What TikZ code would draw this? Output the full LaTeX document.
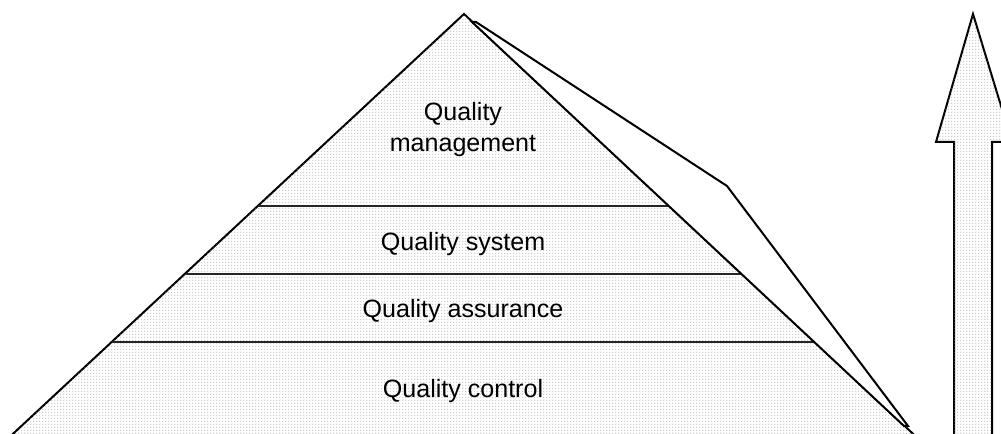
\documentclass[tikz,border=0pt]{standalone}
\usepackage{fontspec}
\usetikzlibrary{patterns.meta}
\setmainfont{Liberation Sans}
% fine stipple used for the shaded surfaces
\tikzdeclarepattern{
  name=stipple,
  type=uncolored,
  bounding box={(0,0) and (2.25pt,2.25pt)},
  tile size={(2.25pt,2.25pt)},
  code={\fill (0.4pt,0.4pt) rectangle (1.15pt,1.15pt);}
}
\begin{document}
\begin{tikzpicture}[x=0.75pt,y=-0.75pt,
  outline/.style={draw=black,line width=1.5pt,line join=miter},
  shade/.style={fill=white,postaction={pattern=stipple,pattern color=black!45}},
  bandline/.style={draw=black!85,line width=1.5pt},
  label/.style={anchor=base,inner sep=0pt,align=center,
    font=\fontsize{18.8}{23.25}\selectfont}]
  \useasboundingbox (0,0) rectangle (1001,434);
  \clip (0,0) rectangle (1001,434);
  % pyramid body
  \path[shade,outline] (464,14) -- (925,445) -- (1,445) -- cycle;
  % band dividers
  \draw[bandline] (258,206) -- (669,206);
  \draw[bandline] (186,274) -- (742,274);
  \draw[bandline] (112,342) -- (815,342);
  % side face
  \path[fill=white,outline] (476,22) -- (727,186) -- (908,426) -- (904,426) -- (472,22) -- cycle;
  % upward arrow
  \path[shade,outline] (973,14) -- (1012,142) -- (992,142) -- (992,445)
    -- (954,445) -- (954,142) -- (936,142) -- cycle;
  % band labels
  \node[label] (qm) at (463,152) {Quality\\management};
  \node[label] (qs) at (463,251) {Quality system};
  \node[label] (qa) at (463,318) {Quality assurance};
  \node[label] (qc) at (463,398) {Quality control};
\end{tikzpicture}
\end{document}
